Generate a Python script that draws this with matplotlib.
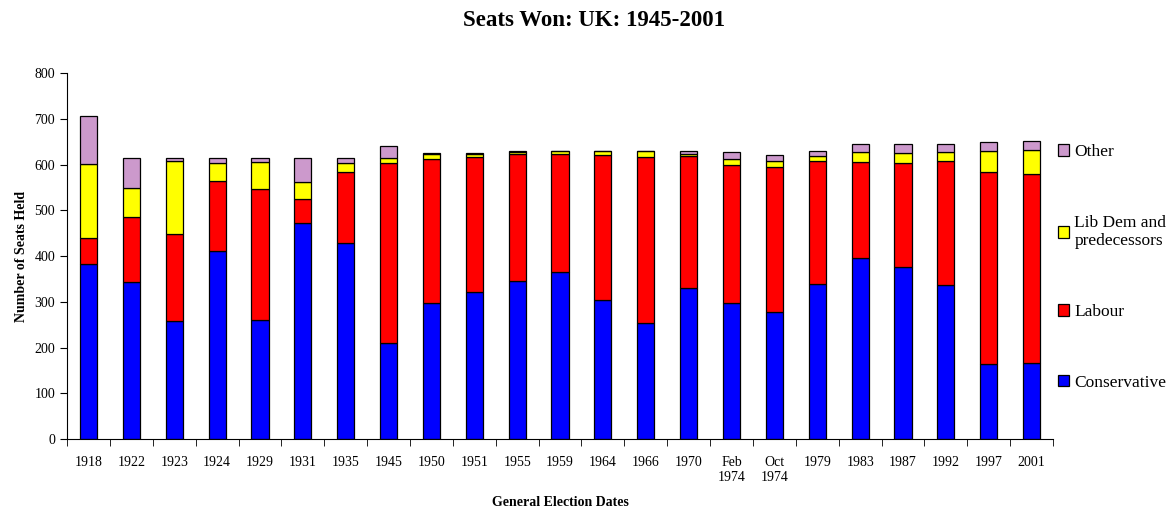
import matplotlib.pyplot as plt
import numpy as np

plt.rcParams['font.family'] = ['Liberation Serif', 'DejaVu Serif']

years = ["1918", "1922", "1923", "1924", "1929", "1931", "1935", "1945", "1950", "1951",
         "1955", "1959", "1964", "1966", "1970", "Feb\n1974", "Oct\n1974", "1979", "1983",
         "1987", "1992", "1997", "2001"]
conservative = [382, 344, 258, 412, 260, 473, 429, 210, 298, 321, 345, 365, 304, 253, 330,
                297, 277, 339, 396, 375, 336, 165, 166]
labour = [57, 142, 191, 151, 287, 52, 154, 393, 315, 295, 277, 258, 317, 364, 288,
          301, 318, 268, 209, 229, 271, 418, 413]
libdem = [163, 62, 158, 40, 59, 36, 21, 12, 9, 6, 6, 6, 9, 12, 6,
          14, 13, 11, 23, 22, 20, 46, 52]
other = [105, 67, 8, 12, 9, 54, 11, 25, 3, 3, 2, 1, 0, 1, 6,
         15, 13, 12, 17, 18, 18, 20, 20]

series = [("Conservative", conservative, "#0000FF"),
          ("Labour", labour, "#FF0000"),
          ("Lib Dem and\npredecessors", libdem, "#FFFF00"),
          ("Other", other, "#CC99CC")]

fig = plt.figure(figsize=(11.72, 5.08), dpi=100)
ax = fig.add_axes([0.0572, 0.1358, 0.8413, 0.7205])

x = np.arange(len(years))
bottom = np.zeros(len(years))
handles = []
for name, vals, col in series:
    b = ax.bar(x, vals, width=0.4, bottom=bottom, color=col, edgecolor="black",
               linewidth=0.9, label=name)
    handles.append(b)
    bottom += np.array(vals)

ax.set_xlim(-0.5, len(years) - 0.5)
ax.set_ylim(0, 800)
ax.set_yticks(range(0, 801, 100))
ax.set_xticks(x)
ax.set_xticklabels(years, fontsize=10)
ax.set_xticks(np.arange(-0.5, len(years), 1), minor=True)
ax.tick_params(axis="x", which="major", length=0, pad=12)
ax.tick_params(axis="x", which="minor", length=5, direction="out")
ax.tick_params(axis="y", length=5, direction="out", labelsize=10)
ax.spines["top"].set_visible(False)
ax.spines["right"].set_visible(False)

ax.set_xlabel("General Election Dates", fontsize=10, fontweight="bold", labelpad=9)
ax.set_ylabel("Number of Seats Held", fontsize=10, fontweight="bold", labelpad=5)
fig.suptitle("Seats Won: UK: 1945-2001", fontsize=16.5, fontweight="bold",
             x=0.507, y=0.98)

fig.legend(handles[::-1], [s[0] for s in series[::-1]], loc="upper left",
           bbox_to_anchor=(0.8894, 0.747), frameon=False, fontsize=12.5,
           handlelength=0.65, handleheight=0.65, handletextpad=0.3,
           labelspacing=3.15)

fig.savefig("out.png", dpi=100)
